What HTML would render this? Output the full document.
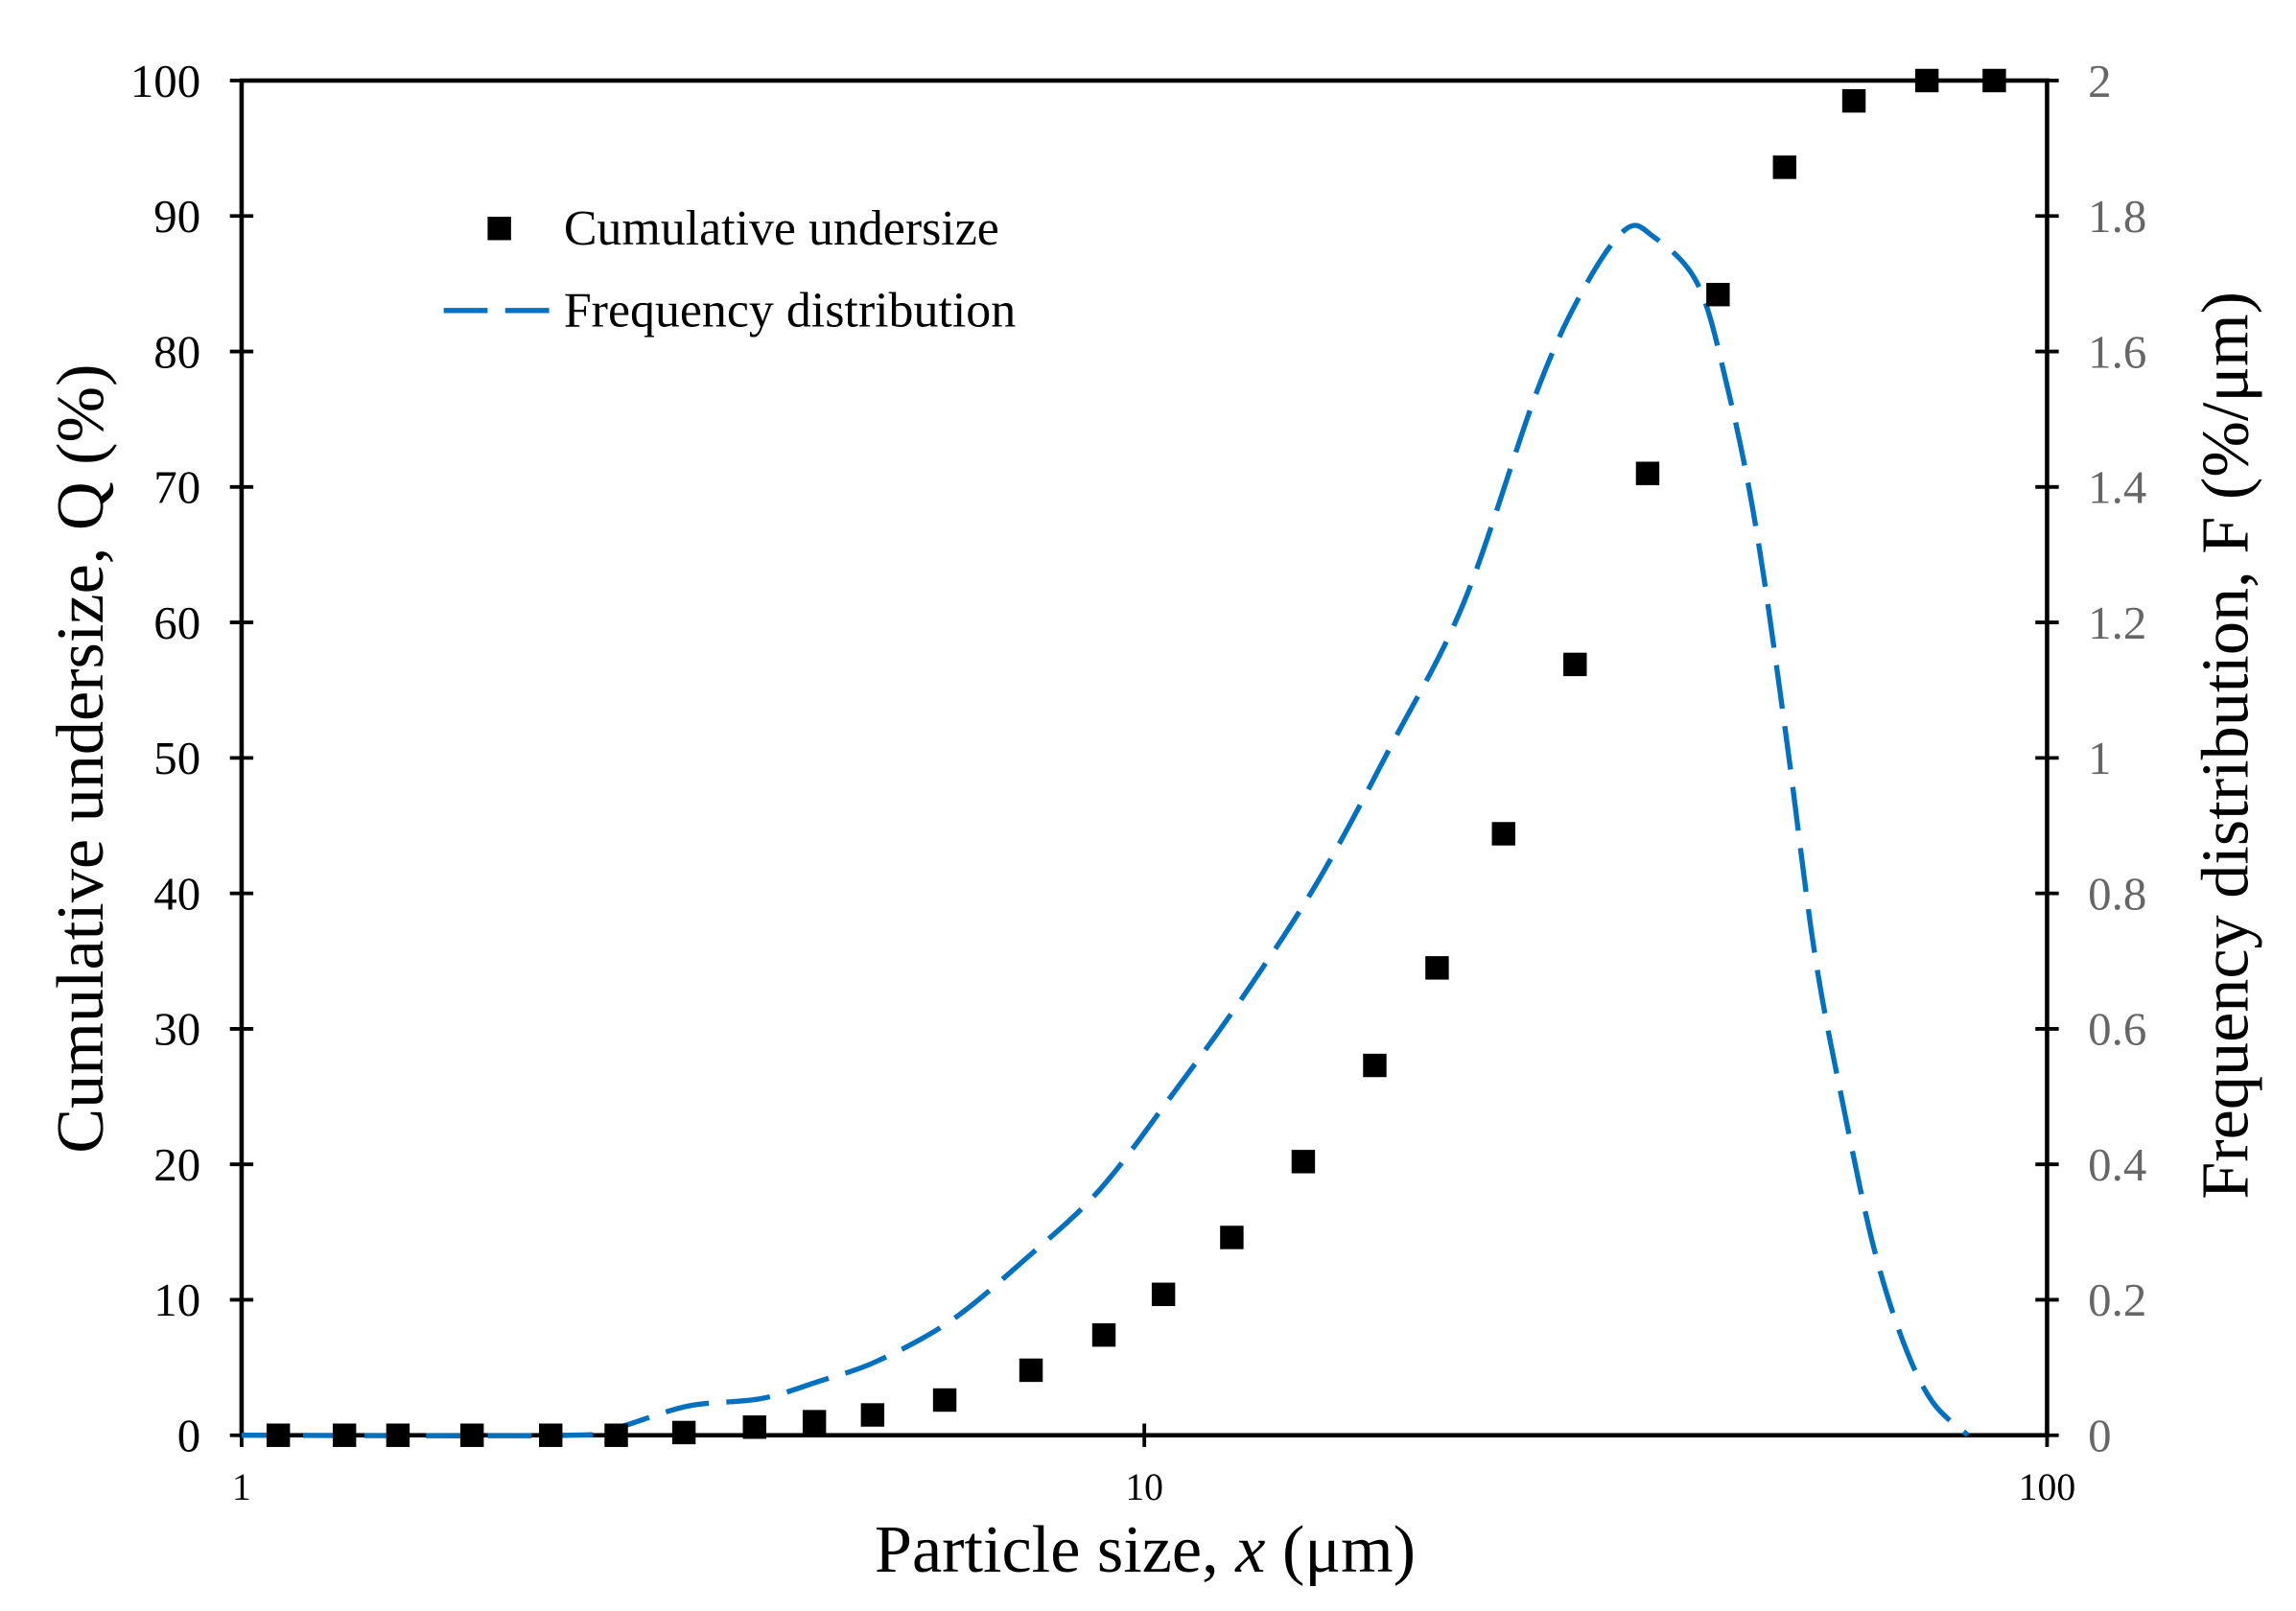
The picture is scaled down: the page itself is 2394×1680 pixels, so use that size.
<!DOCTYPE html>
<html><head><meta charset="utf-8"><style>
html,body{margin:0;padding:0;background:#fff;}
svg{display:block;font-family:"Liberation Serif",serif;}
</style></head><body>
<svg id="chart" width="2394" height="1680" viewBox="0 0 1568 1100" preserveAspectRatio="none" xmlns="http://www.w3.org/2000/svg">
<rect width="1568" height="1100" fill="#fff"/>
<g id="axes"></g>
<g id="series"></g>
</svg>
<script>
const sizes=[1.098,1.30,1.49,1.80,2.20,2.60,3.09,3.70,4.31,5.00,6.01,7.49,9.02,10.5,12.5,15.0,18.0,21.1,25.0,30.0,36.1,43.2,51.2,61.1,73.6,87.4];
const cumulative=[0,0,0,0,0,0,0.2,0.6,1.0,1.5,2.6,4.8,7.4,10.4,14.6,20.2,27.3,34.5,44.4,56.9,71.0,84.2,93.6,98.5,100,100];
const freqX=[1,2.32,2.59,3.12,3.76,4.37,5.07,6.12,7.38,8.89,10.7,12.9,15.6,18.8,22.6,27.2,30.6,34.1,36.6,41.0,44.2,47.6,51.3,55.3,59.6,64.2,69.2,74.6,81.7];
const freqY=[0,0,0.01,0.043,0.054,0.08,0.11,0.17,0.26,0.36,0.50,0.65,0.82,1.02,1.23,1.54,1.69,1.78,1.77,1.70,1.55,1.34,1.04,0.71,0.48,0.28,0.14,0.05,0];
const leftTicks=[0,10,20,30,40,50,60,70,80,90,100];
const rightTicks=["0","0.2","0.4","0.6","0.8","1","1.2","1.4","1.6","1.8","2"];
const xTicks=[1,10,100];

const L=165,R=1398,T=55,B=980;
const NS="http://www.w3.org/2000/svg";
const xs=v=>L+Math.log10(v)/2*(R-L);
const yl=v=>B-v/100*(B-T);
const yr=v=>B-v/2*(B-T);
function mk(tag,attrs,parent){const e=document.createElementNS(NS,tag);for(const k in attrs)e.setAttribute(k,attrs[k]);parent.appendChild(e);return e;}
const ax=document.getElementById('axes'),se=document.getElementById('series');
const frame=mk('rect',{x:L,y:T,width:R-L,height:B-T,fill:'none',stroke:'#000','stroke-width':3},ax);


leftTicks.forEach((v,i)=>{
  const y=yl(v);
  const t=mk('line',{x1:L-8,x2:L+8,y1:y,y2:y,stroke:'#000','stroke-width':2.5},ax);
  
  
  const lb=mk('text',{x:L-28,y:y+11,'text-anchor':'end','font-size':32,fill:'#000'},ax);lb.textContent=v;
  
  
  const t2=mk('line',{x1:R-8,x2:R+8,y1:y,y2:y,stroke:'#000','stroke-width':2.5},ax);
  
  
  const lb2=mk('text',{x:R+28,y:y+11,'text-anchor':'start','font-size':32,fill:'#666'},ax);lb2.textContent=rightTicks[i];
  
  
});
xTicks.forEach(v=>{
  const x=xs(v);
  const t=mk('line',{x1:x,x2:x,y1:B-8,y2:B+8,stroke:'#000','stroke-width':2.5},ax);
  
  
  const lb=mk('text',{x:x,y:B+44,'text-anchor':'middle','font-size':26,fill:'#000'},ax);lb.textContent=v;
  
  
});
const xt=mk('text',{x:782,y:1073,'text-anchor':'middle','font-size':46},ax);
xt.innerHTML='Particle size, <tspan font-style="italic">x</tspan> (μm)';


const yt=mk('text',{transform:'translate(70,518) rotate(-90)','text-anchor':'middle','font-size':46},ax);
yt.textContent='Cumulative undersize, Q (%)';


const yt2=mk('text',{transform:'translate(1535,509) rotate(-90)','text-anchor':'middle','font-size':46},ax);
yt2.textContent='Frequency distribution, F (%/μm)';



// frequency curve (Catmull-Rom smoothing)
const pts=freqX.map((v,i)=>[xs(v),yr(freqY[i])]);
let d='M'+pts[0][0].toFixed(1)+','+pts[0][1].toFixed(1);
for(let i=0;i<pts.length-1;i++){
  const p0=pts[Math.max(0,i-1)],p1=pts[i],p2=pts[i+1],p3=pts[Math.min(pts.length-1,i+2)];
  const c1=[p1[0]+(p2[0]-p0[0])/6,p1[1]+(p2[1]-p0[1])/6];
  const c2=[p2[0]-(p3[0]-p1[0])/6,p2[1]-(p3[1]-p1[1])/6];
  d+='C'+c1[0].toFixed(1)+','+c1[1].toFixed(1)+' '+c2[0].toFixed(1)+','+c2[1].toFixed(1)+' '+p2[0].toFixed(1)+','+p2[1].toFixed(1);
}
const path=mk('path',{d:d,fill:'none',stroke:'#0070C0','stroke-width':3.5,'stroke-dasharray':'30 12','stroke-linejoin':'round'},se);


// markers
sizes.forEach((v,i)=>{
  const r=mk('rect',{x:xs(v)-8,y:yl(cumulative[i])-8,width:16,height:16,fill:'#000'},se);
  
  
});
// legend
const lg=mk('g',{},se);


const lm=mk('rect',{x:333,y:148,width:16,height:16,fill:'#000'},lg);


const lt1=mk('text',{x:385,y:167,'font-size':34},lg);lt1.textContent='Cumulative undersize';


const ll=mk('line',{x1:303,x2:378,y1:212,y2:212,stroke:'#0070C0','stroke-width':3.5,'stroke-dasharray':'30 12'},lg);


const lt2=mk('text',{x:385,y:223,'font-size':34},lg);lt2.textContent='Frequency distribution';


</script>
</body></html>
